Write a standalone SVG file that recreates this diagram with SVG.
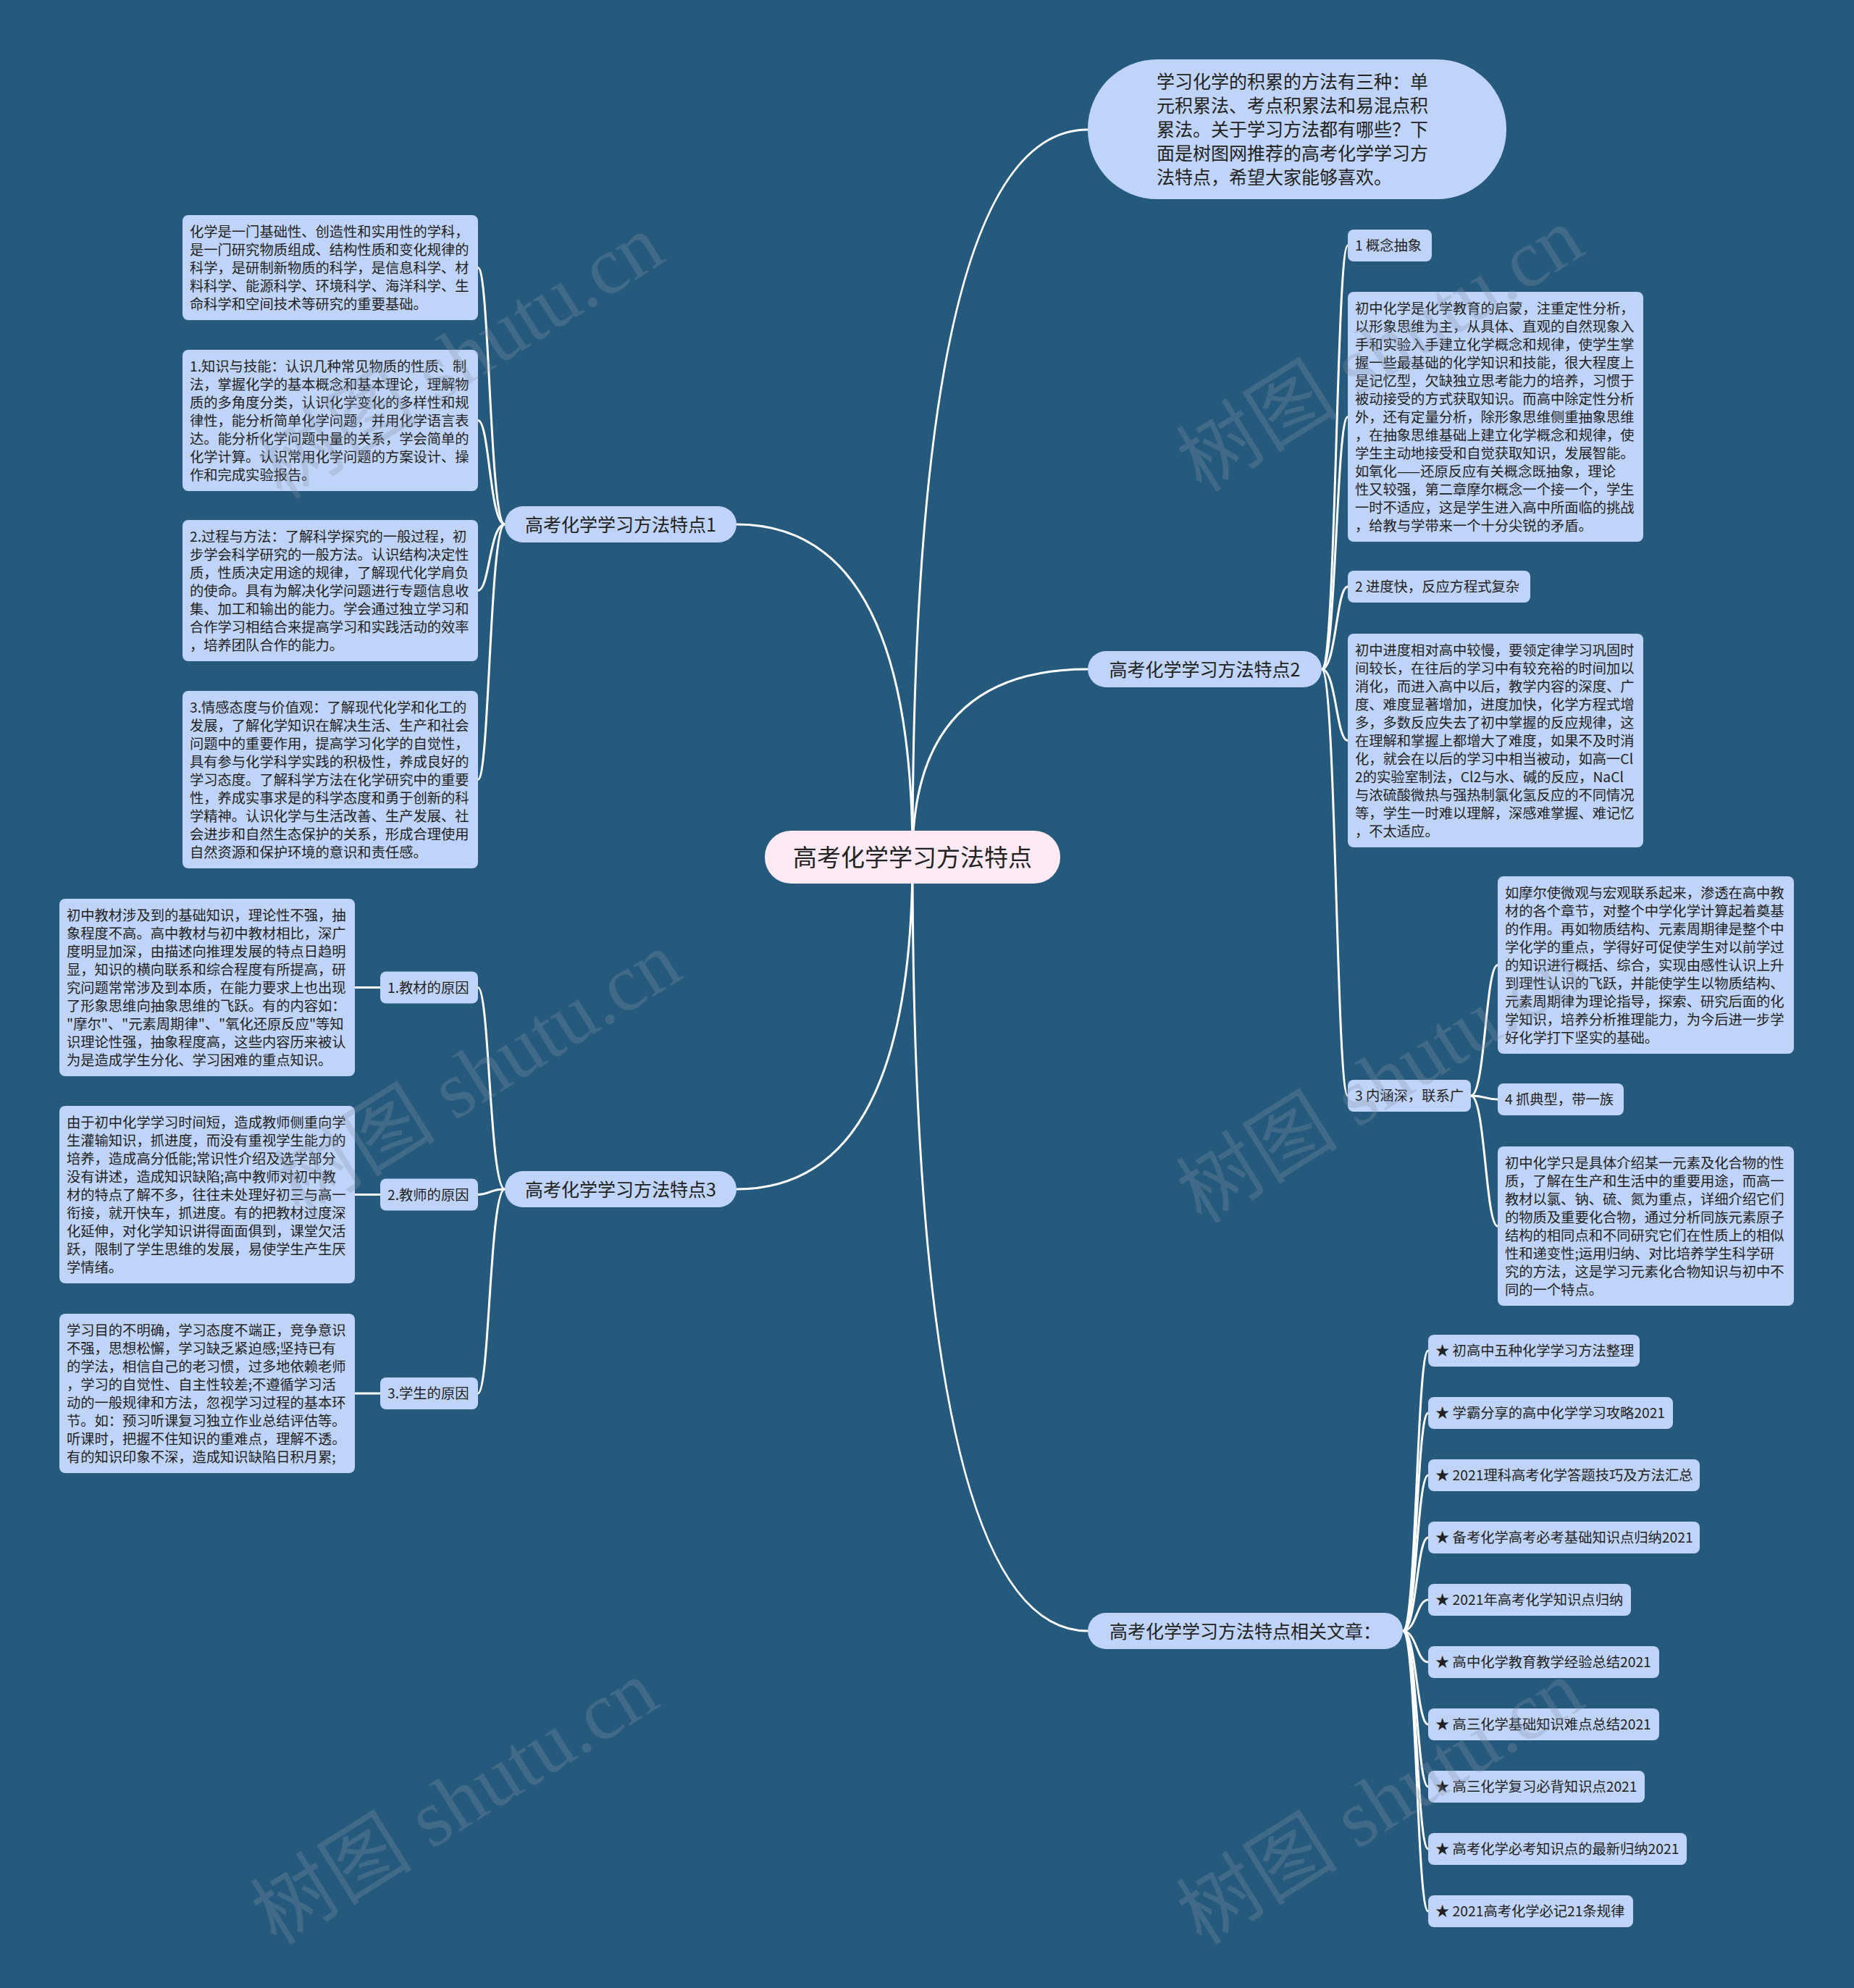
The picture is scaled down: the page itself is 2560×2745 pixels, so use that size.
<svg xmlns="http://www.w3.org/2000/svg" width="2560" height="2745" viewBox="0 0 2560 2745">
<style>
.n rect{fill:#C0D4FA;}
.t{font-family:"Noto Sans CJK SC","Noto Sans",sans-serif;fill:#222;font-size:19.3px;}
.big{font-size:25px;}
.lk path{fill:none;stroke:#ffffff;stroke-width:3;}
.wm{font-family:"Liberation Serif","Noto Sans CJK SC",serif;font-size:112px;fill:#8593a3;opacity:0.28;}
</style>
<rect width="2560" height="2745" fill="#255A7D"/>
<g id="connectors" class="lk">
<path d="M1260 1183 Q1260 179 1502 179"/>
<path d="M1260 1183 Q1260 924 1502 924"/>
<path d="M1260 1183 Q1260 2252 1502 2252"/>
<path d="M1260 1183 Q1260 724 1017 724"/>
<path d="M1260 1183 Q1260 1642 1017 1642"/>
<path d="M697 724 C676 724 676 369.5 660 369.5"/>
<path d="M697 724 C676 724 676 580.5 660 580.5"/>
<path d="M697 724 C676 724 676 815.5 660 815.5"/>
<path d="M697 724 C676 724 676 1076.5 660 1076.5"/>
<path d="M697 1642 C676 1642 676 1363.5 660 1363.5"/>
<path d="M697 1642 C676 1642 676 1649.5 660 1649.5"/>
<path d="M697 1642 C676 1642 676 1924 660 1924"/>
<path d="M525 1363.5 L490 1363.5"/>
<path d="M525 1649.5 L490 1649.5"/>
<path d="M525 1924 L490 1924"/>
<path d="M1825 924 C1845 924 1845 339 1861 339"/>
<path d="M1825 924 C1845 924 1845 575.5 1861 575.5"/>
<path d="M1825 924 C1845 924 1845 810 1861 810"/>
<path d="M1825 924 C1845 924 1845 1022.5 1861 1022.5"/>
<path d="M1825 924 C1845 924 1845 1513 1861 1513"/>
<path d="M2031 1513 C2051 1513 2051 1332.5 2068 1332.5"/>
<path d="M2031 1513 C2051 1513 2051 1518 2068 1518"/>
<path d="M2031 1513 C2051 1513 2051 1693 2068 1693"/>
<path d="M1937 2252 C1956 2252 1956 1865 1972 1865"/>
<path d="M1937 2252 C1956 2252 1956 1951 1972 1951"/>
<path d="M1937 2252 C1956 2252 1956 2037 1972 2037"/>
<path d="M1937 2252 C1956 2252 1956 2123 1972 2123"/>
<path d="M1937 2252 C1956 2252 1956 2209 1972 2209"/>
<path d="M1937 2252 C1956 2252 1956 2295 1972 2295"/>
<path d="M1937 2252 C1956 2252 1956 2381 1972 2381"/>
<path d="M1937 2252 C1956 2252 1956 2467 1972 2467"/>
<path d="M1937 2252 C1956 2252 1956 2553 1972 2553"/>
<path d="M1937 2252 C1956 2252 1956 2639 1972 2639"/>
</g>

<g id="root">
<rect x="1056" y="1147" width="408" height="73" rx="36" fill="#FDEAF4"/>
<text class="t" x="1260" y="1196" text-anchor="middle" style="font-size:33px">高考化学学习方法特点</text>
</g>

<g id="intro" class="n">
<rect x="1502" y="82" width="578" height="193" rx="96"/>
<text class="t big"><tspan x="1597" y="122">学习化学的积累的方法有三种：单</tspan><tspan x="1597" y="155">元积累法、考点积累法和易混点积</tspan><tspan x="1597" y="188">累法。关于学习方法都有哪些？下</tspan><tspan x="1597" y="221">面是树图网推荐的高考化学学习方</tspan><tspan x="1597" y="254">法特点，希望大家能够喜欢。</tspan></text>
</g>

<g id="b1" class="n">
<rect x="697" y="699" width="320" height="50" rx="25"/>
<text class="t big" x="857" y="733.5" text-anchor="middle">高考化学学习方法特点1</text>
</g>
<g id="b2" class="n">
<rect x="1502" y="899" width="323" height="50" rx="25"/>
<text class="t big" x="1663.5" y="933.5" text-anchor="middle">高考化学学习方法特点2</text>
</g>
<g id="b3" class="n">
<rect x="697" y="1617" width="320" height="50" rx="25"/>
<text class="t big" x="857" y="1651.5" text-anchor="middle">高考化学学习方法特点3</text>
</g>
<g id="b4" class="n">
<rect x="1502" y="2227" width="435" height="50" rx="25"/>
<text class="t big" x="1719.5" y="2261.5" text-anchor="middle">高考化学学习方法特点相关文章：</text>
</g>

<g id="c1a" class="n">
<rect x="252" y="297" width="408" height="145" rx="8"/>
<text class="t"><tspan x="262" y="326.5">化学是一门基础性、创造性和实用性的学科，</tspan><tspan x="262" y="351.5">是一门研究物质组成、结构性质和变化规律的</tspan><tspan x="262" y="376.5">科学，是研制新物质的科学，是信息科学、材</tspan><tspan x="262" y="401.5">料科学、能源科学、环境科学、海洋科学、生</tspan><tspan x="262" y="426.5">命科学和空间技术等研究的重要基础。</tspan></text>
</g>
<g id="c1b" class="n">
<rect x="252" y="483" width="408" height="195" rx="8"/>
<text class="t"><tspan x="262" y="512.5">1.知识与技能：认识几种常见物质的性质、制</tspan><tspan x="262" y="537.5">法，掌握化学的基本概念和基本理论，理解物</tspan><tspan x="262" y="562.5">质的多角度分类，认识化学变化的多样性和规</tspan><tspan x="262" y="587.5">律性，能分析简单化学问题，并用化学语言表</tspan><tspan x="262" y="612.5">达。能分析化学问题中量的关系，学会简单的</tspan><tspan x="262" y="637.5">化学计算。认识常用化学问题的方案设计、操</tspan><tspan x="262" y="662.5">作和完成实验报告。</tspan></text>
</g>
<g id="c1c" class="n">
<rect x="252" y="718" width="408" height="195" rx="8"/>
<text class="t"><tspan x="262" y="747.5">2.过程与方法：了解科学探究的一般过程，初</tspan><tspan x="262" y="772.5">步学会科学研究的一般方法。认识结构决定性</tspan><tspan x="262" y="797.5">质，性质决定用途的规律，了解现代化学肩负</tspan><tspan x="262" y="822.5">的使命。具有为解决化学问题进行专题信息收</tspan><tspan x="262" y="847.5">集、加工和输出的能力。学会通过独立学习和</tspan><tspan x="262" y="872.5">合作学习相结合来提高学习和实践活动的效率</tspan><tspan x="262" y="897.5">，培养团队合作的能力。</tspan></text>
</g>
<g id="c1d" class="n">
<rect x="252" y="954" width="408" height="245" rx="8"/>
<text class="t"><tspan x="262" y="983.5">3.情感态度与价值观：了解现代化学和化工的</tspan><tspan x="262" y="1008.5">发展，了解化学知识在解决生活、生产和社会</tspan><tspan x="262" y="1033.5">问题中的重要作用，提高学习化学的自觉性，</tspan><tspan x="262" y="1058.5">具有参与化学科学实践的积极性，养成良好的</tspan><tspan x="262" y="1083.5">学习态度。了解科学方法在化学研究中的重要</tspan><tspan x="262" y="1108.5">性，养成实事求是的科学态度和勇于创新的科</tspan><tspan x="262" y="1133.5">学精神。认识化学与生活改善、生产发展、社</tspan><tspan x="262" y="1158.5">会进步和自然生态保护的关系，形成合理使用</tspan><tspan x="262" y="1183.5">自然资源和保护环境的意识和责任感。</tspan></text>
</g>

<g id="k1label" class="n">
<rect x="1861" y="317" width="116" height="44" rx="8"/>
<text class="t" x="1871" y="346.3">1 概念抽象</text>
</g>
<g id="k1" class="n">
<rect x="1861" y="403" width="408" height="345" rx="8"/>
<text class="t"><tspan x="1871" y="432.5">初中化学是化学教育的启蒙，注重定性分析，</tspan><tspan x="1871" y="457.5">以形象思维为主，从具体、直观的自然现象入</tspan><tspan x="1871" y="482.5">手和实验入手建立化学概念和规律，使学生掌</tspan><tspan x="1871" y="507.5">握一些最基础的化学知识和技能，很大程度上</tspan><tspan x="1871" y="532.5">是记忆型，欠缺独立思考能力的培养，习惯于</tspan><tspan x="1871" y="557.5">被动接受的方式获取知识。而高中除定性分析</tspan><tspan x="1871" y="582.5">外，还有定量分析，除形象思维侧重抽象思维</tspan><tspan x="1871" y="607.5">，在抽象思维基础上建立化学概念和规律，使</tspan><tspan x="1871" y="632.5">学生主动地接受和自觉获取知识，发展智能。</tspan><tspan x="1871" y="657.5">如氧化——还原反应有关概念既抽象，理论</tspan><tspan x="1871" y="682.5">性又较强，第二章摩尔概念一个接一个，学生</tspan><tspan x="1871" y="707.5">一时不适应，这是学生进入高中所面临的挑战</tspan><tspan x="1871" y="732.5">，给教与学带来一个十分尖锐的矛盾。</tspan></text>
</g>
<g id="k2label" class="n">
<rect x="1861" y="788" width="252" height="44" rx="8"/>
<text class="t" x="1871" y="817.3">2 进度快，反应方程式复杂</text>
</g>
<g id="k2" class="n">
<rect x="1861" y="875" width="408" height="295" rx="8"/>
<text class="t"><tspan x="1871" y="904.5">初中进度相对高中较慢，要领定律学习巩固时</tspan><tspan x="1871" y="929.5">间较长，在往后的学习中有较充裕的时间加以</tspan><tspan x="1871" y="954.5">消化，而进入高中以后，教学内容的深度、广</tspan><tspan x="1871" y="979.5">度、难度显著增加，进度加快，化学方程式增</tspan><tspan x="1871" y="1004.5">多，多数反应失去了初中掌握的反应规律，这</tspan><tspan x="1871" y="1029.5">在理解和掌握上都增大了难度，如果不及时消</tspan><tspan x="1871" y="1054.5">化，就会在以后的学习中相当被动，如高一Cl</tspan><tspan x="1871" y="1079.5">2的实验室制法，Cl2与水、碱的反应，NaCl</tspan><tspan x="1871" y="1104.5">与浓硫酸微热与强热制氯化氢反应的不同情况</tspan><tspan x="1871" y="1129.5">等，学生一时难以理解，深感难掌握、难记忆</tspan><tspan x="1871" y="1154.5">，不太适应。</tspan></text>
</g>
<g id="k3label" class="n">
<rect x="1861" y="1491" width="170" height="44" rx="8"/>
<text class="t" x="1871" y="1520.3">3 内涵深，联系广</text>
</g>
<g id="m1" class="n">
<rect x="2068" y="1210" width="409" height="245" rx="8"/>
<text class="t"><tspan x="2078" y="1239.5">如摩尔使微观与宏观联系起来，渗透在高中教</tspan><tspan x="2078" y="1264.5">材的各个章节，对整个中学化学计算起着奠基</tspan><tspan x="2078" y="1289.5">的作用。再如物质结构、元素周期律是整个中</tspan><tspan x="2078" y="1314.5">学化学的重点，学得好可促使学生对以前学过</tspan><tspan x="2078" y="1339.5">的知识进行概括、综合，实现由感性认识上升</tspan><tspan x="2078" y="1364.5">到理性认识的飞跃，并能使学生以物质结构、</tspan><tspan x="2078" y="1389.5">元素周期律为理论指导，探索、研究后面的化</tspan><tspan x="2078" y="1414.5">学知识，培养分析推理能力，为今后进一步学</tspan><tspan x="2078" y="1439.5">好化学打下坚实的基础。</tspan></text>
</g>
<g id="k4label" class="n">
<rect x="2068" y="1496" width="174" height="44" rx="8"/>
<text class="t" x="2078" y="1525.3">4 抓典型，带一族</text>
</g>
<g id="m2" class="n">
<rect x="2068" y="1583" width="409" height="220" rx="8"/>
<text class="t"><tspan x="2078" y="1612.5">初中化学只是具体介绍某一元素及化合物的性</tspan><tspan x="2078" y="1637.5">质，了解在生产和生活中的重要用途，而高一</tspan><tspan x="2078" y="1662.5">教材以氯、钠、硫、氮为重点，详细介绍它们</tspan><tspan x="2078" y="1687.5">的物质及重要化合物，通过分析同族元素原子</tspan><tspan x="2078" y="1712.5">结构的相同点和不同研究它们在性质上的相似</tspan><tspan x="2078" y="1737.5">性和递变性;运用归纳、对比培养学生科学研</tspan><tspan x="2078" y="1762.5">究的方法，这是学习元素化合物知识与初中不</tspan><tspan x="2078" y="1787.5">同的一个特点。</tspan></text>
</g>

<g id="l1" class="n">
<rect x="525" y="1341.5" width="135" height="44" rx="8"/>
<text class="t" x="535" y="1370.8">1.教材的原因</text>
</g>
<g id="l2" class="n">
<rect x="525" y="1627.5" width="135" height="44" rx="8"/>
<text class="t" x="535" y="1656.8">2.教师的原因</text>
</g>
<g id="l3" class="n">
<rect x="525" y="1902" width="135" height="44" rx="8"/>
<text class="t" x="535" y="1931.3">3.学生的原因</text>
</g>
<g id="t1" class="n">
<rect x="82" y="1241" width="408" height="245" rx="8"/>
<text class="t"><tspan x="92" y="1270.5">初中教材涉及到的基础知识，理论性不强，抽</tspan><tspan x="92" y="1295.5">象程度不高。高中教材与初中教材相比，深广</tspan><tspan x="92" y="1320.5">度明显加深，由描述向推理发展的特点日趋明</tspan><tspan x="92" y="1345.5">显，知识的横向联系和综合程度有所提高，研</tspan><tspan x="92" y="1370.5">究问题常常涉及到本质，在能力要求上也出现</tspan><tspan x="92" y="1395.5">了形象思维向抽象思维的飞跃。有的内容如：</tspan><tspan x="92" y="1420.5">"摩尔"、"元素周期律"、"氧化还原反应"等知</tspan><tspan x="92" y="1445.5">识理论性强，抽象程度高，这些内容历来被认</tspan><tspan x="92" y="1470.5">为是造成学生分化、学习困难的重点知识。</tspan></text>
</g>
<g id="t2" class="n">
<rect x="82" y="1527" width="408" height="245" rx="8"/>
<text class="t"><tspan x="92" y="1556.5">由于初中化学学习时间短，造成教师侧重向学</tspan><tspan x="92" y="1581.5">生灌输知识，抓进度，而没有重视学生能力的</tspan><tspan x="92" y="1606.5">培养，造成高分低能;常识性介绍及选学部分</tspan><tspan x="92" y="1631.5">没有讲述，造成知识缺陷;高中教师对初中教</tspan><tspan x="92" y="1656.5">材的特点了解不多，往往未处理好初三与高一</tspan><tspan x="92" y="1681.5">衔接，就开快车，抓进度。有的把教材过度深</tspan><tspan x="92" y="1706.5">化延伸，对化学知识讲得面面俱到，课堂欠活</tspan><tspan x="92" y="1731.5">跃，限制了学生思维的发展，易使学生产生厌</tspan><tspan x="92" y="1756.5">学情绪。</tspan></text>
</g>
<g id="t3" class="n">
<rect x="82" y="1814" width="408" height="220" rx="8"/>
<text class="t"><tspan x="92" y="1843.5">学习目的不明确，学习态度不端正，竞争意识</tspan><tspan x="92" y="1868.5">不强，思想松懈，学习缺乏紧迫感;坚持已有</tspan><tspan x="92" y="1893.5">的学法，相信自己的老习惯，过多地依赖老师</tspan><tspan x="92" y="1918.5">，学习的自觉性、自主性较差;不遵循学习活</tspan><tspan x="92" y="1943.5">动的一般规律和方法，忽视学习过程的基本环</tspan><tspan x="92" y="1968.5">节。如：预习听课复习独立作业总结评估等。</tspan><tspan x="92" y="1993.5">听课时，把握不住知识的重难点，理解不透。</tspan><tspan x="92" y="2018.5">有的知识印象不深，造成知识缺陷日积月累;</tspan></text>
</g>

<g id="a1" class="n"><rect x="1972" y="1843" width="292" height="44" rx="8"/><text class="t" x="1982" y="1872.3">★ 初高中五种化学学习方法整理</text></g>
<g id="a2" class="n"><rect x="1972" y="1929" width="338" height="44" rx="8"/><text class="t" x="1982" y="1958.3">★ 学霸分享的高中化学学习攻略2021</text></g>
<g id="a3" class="n"><rect x="1972" y="2015" width="375" height="44" rx="8"/><text class="t" x="1982" y="2044.3">★ 2021理科高考化学答题技巧及方法汇总</text></g>
<g id="a4" class="n"><rect x="1972" y="2101" width="375" height="44" rx="8"/><text class="t" x="1982" y="2130.3">★ 备考化学高考必考基础知识点归纳2021</text></g>
<g id="a5" class="n"><rect x="1972" y="2187" width="280" height="44" rx="8"/><text class="t" x="1982" y="2216.3">★ 2021年高考化学知识点归纳</text></g>
<g id="a6" class="n"><rect x="1972" y="2273" width="319" height="44" rx="8"/><text class="t" x="1982" y="2302.3">★ 高中化学教育教学经验总结2021</text></g>
<g id="a7" class="n"><rect x="1972" y="2359" width="319" height="44" rx="8"/><text class="t" x="1982" y="2388.3">★ 高三化学基础知识难点总结2021</text></g>
<g id="a8" class="n"><rect x="1972" y="2445" width="299" height="44" rx="8"/><text class="t" x="1982" y="2474.3">★ 高三化学复习必背知识点2021</text></g>
<g id="a9" class="n"><rect x="1972" y="2531" width="357" height="44" rx="8"/><text class="t" x="1982" y="2560.3">★ 高考化学必考知识点的最新归纳2021</text></g>
<g id="a10" class="n"><rect x="1972" y="2617" width="283" height="44" rx="8"/><text class="t" x="1982" y="2646.3">★ 2021高考化学必记21条规律</text></g>

<g id="watermark">
<text class="wm" x="656" y="525" text-anchor="middle" transform="rotate(-32 656 525)">树图 shutu.cn</text>
<text class="wm" x="1926" y="515" text-anchor="middle" transform="rotate(-32 1926 515)">树图 shutu.cn</text>
<text class="wm" x="680" y="1515" text-anchor="middle" transform="rotate(-32 680 1515)">树图 shutu.cn</text>
<text class="wm" x="1926" y="1525" text-anchor="middle" transform="rotate(-32 1926 1525)">树图 shutu.cn</text>
<text class="wm" x="648" y="2521" text-anchor="middle" transform="rotate(-32 648 2521)">树图 shutu.cn</text>
<text class="wm" x="1926" y="2521" text-anchor="middle" transform="rotate(-32 1926 2521)">树图 shutu.cn</text>
</g>
</svg>
